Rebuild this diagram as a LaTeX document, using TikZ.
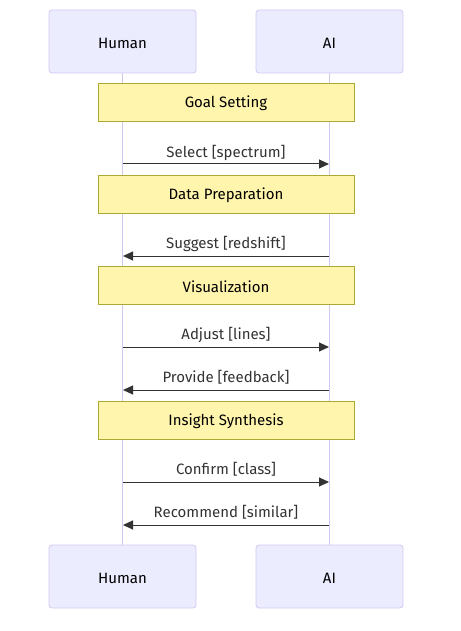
\documentclass[tikz,border=0pt]{standalone}
\usepackage{fontspec}
\setmainfont{Fira Sans}
\usetikzlibrary{arrows.meta}
\definecolor{actorfill}{HTML}{ECECFF}
\definecolor{actorline}{HTML}{D3C7F0}
\definecolor{notefill}{HTML}{FFF5AD}
\definecolor{noteline}{HTML}{AAAA33}
\definecolor{msgline}{HTML}{333333}
\tikzset{
  actor/.style={draw=actorline, fill=actorfill, rounded corners=3pt, line width=0.8pt,
    minimum width=147pt, minimum height=63pt, inner sep=0pt, text depth=0pt,
    font=\fontsize{15}{18}\selectfont},
  lifeline/.style={draw=actorline, line width=1.3pt},
  note/.style={draw=noteline, fill=notefill, line width=0.8pt,
    minimum width=256pt, minimum height=38pt, inner sep=0pt,
    font=\fontsize{15}{18}\selectfont},
  notetext/.style={inner sep=0pt, font=\fontsize{15}{18}\selectfont},
  msg/.style={draw=msgline, line width=1pt, -{Triangle[length=10pt,width=9pt]}},
  msglabel/.style={font=\fontsize{15}{18}\selectfont, text=msgline, inner sep=0pt}
}
\begin{document}
\begin{tikzpicture}[x=1pt,y=-1pt]
\useasboundingbox (0,0) rectangle (460,631);
% participants
\node[actor] (htop) at (122.5,41.5) {};
\node[actor] (atop) at (329.5,41.5) {};
\node[actor] (hbot) at (122.5,576.5) {};
\node[actor] (abot) at (329.5,576.5) {};
\node[notetext] (htopt) at (122.5,43) {Human};
\node[notetext] (atopt) at (329.5,43) {AI};
\node[notetext] (hbott) at (122.5,578) {Human};
\node[notetext] (abott) at (329.5,578) {AI};
% lifelines
\draw[lifeline] (htop.south) -- (hbot.north);
\draw[lifeline] (atop.south) -- (abot.north);
% message anchors on the lifelines
\coordinate (h1) at (123,164); \coordinate (a1) at (329,164);
\coordinate (h2) at (123,256); \coordinate (a2) at (329,256);
\coordinate (h3) at (123,347); \coordinate (a3) at (329,347);
\coordinate (h4) at (123,390); \coordinate (a4) at (329,390);
\coordinate (h5) at (123,482); \coordinate (a5) at (329,482);
\coordinate (h6) at (123,525); \coordinate (a6) at (329,525);
% notes spanning both participants
\node[note] (n1) at (226,102) {};
\node[note] (n2) at (226,194) {};
\node[note] (n3) at (226,285) {};
\node[note] (n4) at (226,420) {};
\node[notetext] (n1t) at (226,103.5) {Goal Setting};
\node[notetext] (n2t) at (226,195.5) {Data Preparation};
\node[notetext] (n3t) at (226,286.5) {Visualization};
\node[notetext] (n4t) at (226,421.5) {Insight Synthesis};
% messages
\draw[msg] (h1) -- (a1);
\node[msglabel] (l1) at (226,152.5) {Select [spectrum]};
\draw[msg] (a2) -- (h2);
\node[msglabel] (l2) at (226,243.5) {Suggest [redshift]};
\draw[msg] (h3) -- (a3);
\node[msglabel] (l3) at (226,334.5) {Adjust [lines]};
\draw[msg] (a4) -- (h4);
\node[msglabel] (l4) at (226,377.5) {Provide [feedback]};
\draw[msg] (h5) -- (a5);
\node[msglabel] (l5) at (226,469.5) {Confirm [class]};
\draw[msg] (a6) -- (h6);
\node[msglabel] (l6) at (226,512.5) {Recommend [similar]};
\end{tikzpicture}
\end{document}
